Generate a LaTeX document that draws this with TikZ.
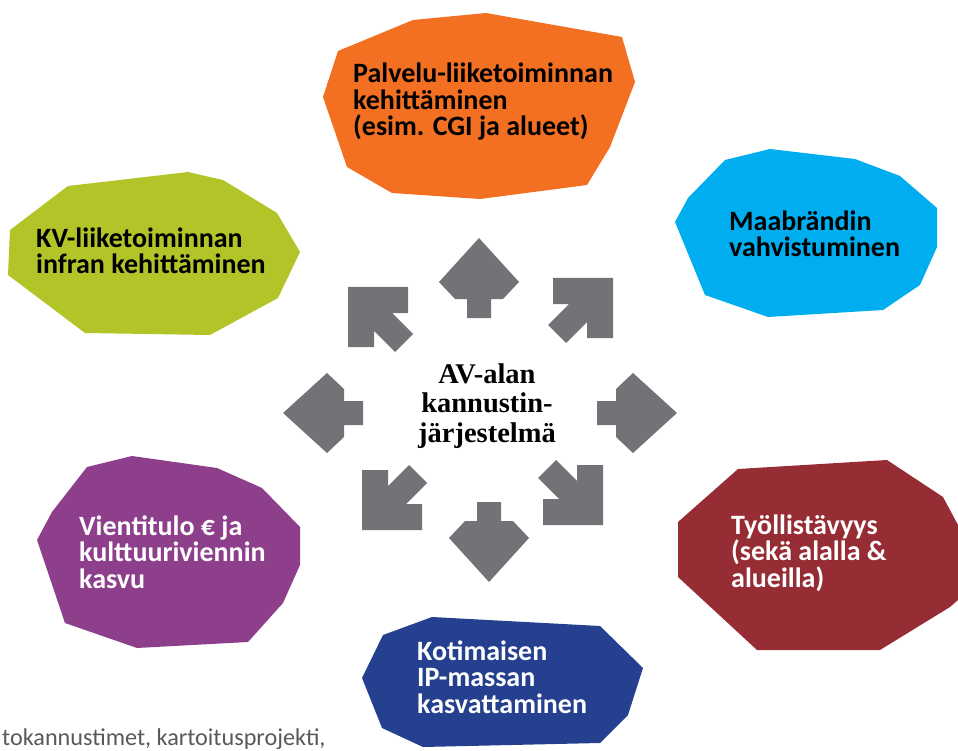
\documentclass[tikz,border=0pt]{standalone}
\usepackage{fontspec}
\setmainfont{Carlito}
\newfontfamily\centerfont{Liberation Serif}
\definecolor{cOrange}{RGB}{243,111,33}
\definecolor{cGreen}{RGB}{178,196,40}
\definecolor{cBlue}{RGB}{0,174,239}
\definecolor{cRed}{RGB}{150,45,53}
\definecolor{cNavy}{RGB}{37,64,142}
\definecolor{cPurple}{RGB}{142,63,140}
\definecolor{cArrow}{RGB}{114,115,119}
\definecolor{cNote}{RGB}{89,89,89}
\begin{document}
\begin{tikzpicture}[x=1pt,y=-1pt,
  blobtext/.style={anchor=base west, inner sep=0pt, align=left,
    font=\fontsize{28}{26.5}\selectfont\bfseries},
  arrowshape/.style={fill=cArrow}]
\useasboundingbox (0,0) rectangle (958,751);
\clip (0,0) rectangle (958,751);
% blobs
\fill[cOrange] (486,13) -- (413,20) -- (338,51) -- (323,97) -- (347,167) -- (392,193) -- (480,199) -- (587,185) -- (610,147) -- (635,82) -- (622,37) -- cycle;
\fill[cGreen] (188,172) -- (223,180) -- (277,213) -- (300,252) -- (278,298) -- (210,335) -- (85,333) -- (8,275) -- (10,230) -- (68,186) -- cycle;
\fill[cBlue] (770,149) -- (855,159) -- (900,176) -- (937,208) -- (937,247) -- (920,285) -- (883,310) -- (768,317) -- (705,295) -- (675,222) -- (688,198) -- (725,160) -- cycle;
\fill[cRed] (738,469) -- (887,460) -- (943,497) -- (958,525) -- (958,600) -- (950,607) -- (880,650) -- (757,650) -- (678,577) -- (678,522) -- cycle;
\fill[cNavy] (432,617) -- (600,626) -- (643,668) -- (628,715) -- (600,743) -- (423,747) -- (382,728) -- (362,678) -- (383,635) -- cycle;
\fill[cPurple] (132,456) -- (217,468) -- (262,488) -- (300,527) -- (300,565) -- (283,603) -- (248,642) -- (137,648) -- (65,623) -- (37,540) -- (52,512) -- (87,467) -- cycle;
% straight arrows (tip at origin, shaft along +x)
\foreach \tx/\ty/\ang in {479/238/-90, 489/582/90, 283/413/0, 677/413/180}{
  \fill[arrowshape, shift={(\tx,\ty)}, rotate=\ang]
    (0,0) -- (44,40) -- (61,24) -- (61,12) -- (80,12) -- (80,-12) -- (61,-12) -- (61,-24) -- (44,-40) -- cycle;
}
% diagonal arrows
\foreach \tx/\ty/\sx/\sy in {348/287/1/1, 613/278/-1/1, 362/530/1/-1, 603/525/-1/-1}{
  \fill[arrowshape, shift={(\tx,\ty)}, xscale=\sx, yscale=\sy]
    (0,0) -- (60,0) -- (60,26) -- (44,26) -- (65,47) -- (47,65) -- (26,44) -- (26,60) -- (0,60) -- cycle;
}
% texts (anchor = baseline of the last line)
\node[blobtext] (tOrange) at (353,136) {Palvelu-liiketoiminnan\\kehittäminen\\(esim. CGI ja alueet)};
\node[blobtext] (tGreen) at (36,274) {KV-liiketoiminnan\\infran kehittäminen};
\node[blobtext] (tBlue) at (729,257) {Maabrändin\\vahvistuminen};
\node[blobtext, text=white] (tRed) at (731,587) {Työllistävyys\\(sekä alalla \&\\alueilla)};
\node[blobtext, text=white] (tNavy) at (417,713) {Kotimaisen\\IP-massan\\kasvattaminen};
\node[blobtext, text=white] (tPurple) at (79,588) {Vientitulo € ja\\kulttuuriviennin\\kasvu};
\node[anchor=base, inner sep=0pt, align=center, font=\centerfont\bfseries\fontsize{28.5}{29.5}\selectfont] (center) at (487,442) {AV-alan\\kannustin-\\järjestelmä};
\node[anchor=base west, inner sep=0pt, text=cNote, font=\fontsize{24.2}{25}\selectfont] (note) at (2,745) {tokannustimet, kartoitusprojekti,};
\end{tikzpicture}
\end{document}
